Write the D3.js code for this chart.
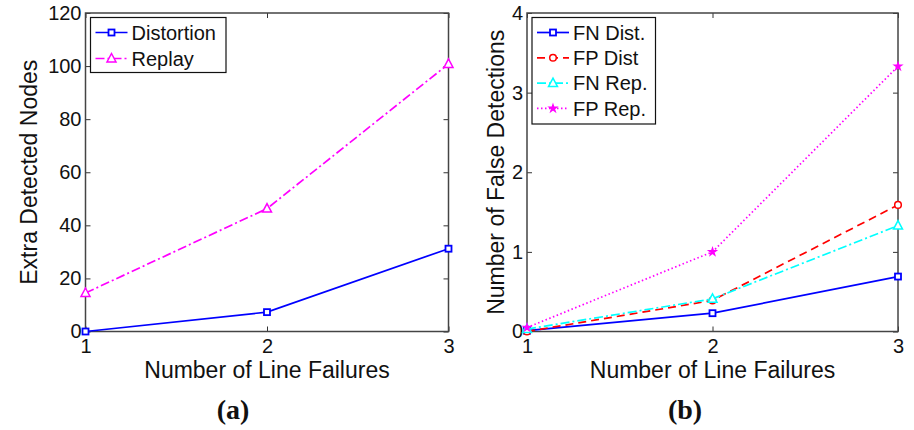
<!DOCTYPE html>
<html><head><meta charset="utf-8">
<script src="https://cdn.jsdelivr.net/npm/d3@7"></script>
<style>body{margin:0;background:#fff}svg{display:block}</style>
</head><body>
<svg id="c" width="914" height="430"></svg>
<script>
// ---- data ----
const failures = [1, 2, 3];
const distortion = [0, 7.3, 31.2];
const replay = [14.5, 46.3, 100.8];
const fnDist = [0.01, 0.23, 0.69];
const fpDist = [0.0, 0.39, 1.59];
const fnRep = [0.03, 0.41, 1.33];
const fpRep = [0.05, 1.0, 3.33];
const leftYTicks = [0, 20, 40, 60, 80, 100, 120];
const rightYTicks = [0, 1, 2, 3, 4];
const xTicks = [1, 2, 3];

const svg = d3.select("#c");
const FONT = "Liberation Sans, Arial, Helvetica, sans-serif";

function panel(cfg) {
  const g = svg.append("g");
  const x = d3.scaleLinear().domain([1, 3]).range([cfg.x0, cfg.x1]);
  const y = d3.scaleLinear().domain(cfg.ydom).range([cfg.y1, cfg.y0]);
  const TS = -5;
  const ax = g.append("g").attr("transform", `translate(0,${cfg.y1})`)
    .call(d3.axisBottom(x).tickValues(xTicks).tickFormat(d3.format("d")).tickSizeInner(TS).tickSizeOuter(0).tickPadding(7));
  const ay = g.append("g").attr("transform", `translate(${cfg.x0},0)`)
    .call(d3.axisLeft(y).tickValues(cfg.yticks).tickFormat(d3.format("d")).tickSizeInner(TS).tickSizeOuter(0).tickPadding(4));
  const at = g.append("g").attr("transform", `translate(0,${cfg.y0})`)
    .call(d3.axisTop(x).tickValues(xTicks).tickFormat("").tickSizeInner(TS).tickSizeOuter(0));
  const ar = g.append("g").attr("transform", `translate(${cfg.x1},0)`)
    .call(d3.axisRight(y).tickValues(cfg.yticks).tickFormat("").tickSizeInner(TS).tickSizeOuter(0));
  [ax, ay, at, ar].forEach(a => {
    a.select(".domain").remove();
    a.selectAll("line").attr("stroke", "#333").attr("stroke-width", 1);
    a.selectAll("text").attr("font-family", FONT).attr("font-size", 20).attr("fill", "#111");
  });
  ax.selectAll("text").attr("dy", "0.71em");
  g.append("rect").attr("x", cfg.x0).attr("y", cfg.y0)
    .attr("width", cfg.x1 - cfg.x0).attr("height", cfg.y1 - cfg.y0)
    .attr("fill", "none").attr("stroke", "#444").attr("stroke-width", 1.5);

  g.append("text").attr("x", (cfg.x0 + cfg.x1) / 2).attr("y", 378)
    .attr("text-anchor", "middle").attr("font-family", FONT).attr("font-size", 23).attr("fill", "#111")
    .text("Number of Line Failures");
  g.append("text").attr("transform", `translate(${cfg.ylabX},${(cfg.y0 + cfg.y1) / 2}) rotate(-90)`)
    .attr("text-anchor", "middle").attr("font-family", FONT).attr("font-size", 23).attr("fill", "#111")
    .text(cfg.ylabel);
  g.append("text").attr("x", cfg.capX).attr("y", 419)
    .attr("text-anchor", "middle").attr("font-family", "Liberation Serif, Times New Roman, serif")
    .attr("font-weight", "bold").attr("font-size", 28).attr("fill", "#111").text(cfg.caption);

  cfg.series.forEach(s => {
    const pts = failures.map((f, i) => [x(f), y(s.values[i])]);
    g.append("path").attr("d", d3.line()(pts)).attr("fill", "none")
      .attr("stroke", s.color).attr("stroke-width", 1.7).attr("stroke-dasharray", s.dash || null);
    pts.forEach(p => marker(g, s, p[0], p[1]));
  });

  const lg = cfg.legend;
  g.append("rect").attr("x", lg.x).attr("y", lg.y).attr("width", lg.w).attr("height", lg.h)
    .attr("fill", "#fff").attr("stroke", "#111").attr("stroke-width", 1.2);
  cfg.series.forEach((s, i) => {
    const yy = lg.y + lg.first + i * lg.step;
    g.append("line").attr("x1", lg.x + 5).attr("x2", lg.x + 37).attr("y1", yy).attr("y2", yy)
      .attr("stroke", s.color).attr("stroke-width", 1.7).attr("stroke-dasharray", s.dash || null);
    marker(g, s, lg.x + 21, yy);
    g.append("text").attr("x", lg.x + 41).attr("y", yy).attr("dy", "0.36em")
      .attr("font-family", FONT).attr("font-size", 20).attr("fill", "#111").text(s.name);
  });
}

function marker(g, s, cx, cy) {
  if (s.marker === "square") {
    g.append("rect").attr("x", cx - 3).attr("y", cy - 3).attr("width", 6).attr("height", 6)
      .attr("fill", "#fff").attr("stroke", s.color).attr("stroke-width", 1.8);
  } else if (s.marker === "circle") {
    g.append("circle").attr("cx", cx).attr("cy", cy).attr("r", 3.3)
      .attr("fill", "#fff").attr("stroke", s.color).attr("stroke-width", 1.5);
  } else if (s.marker === "triangle") {
    g.append("path").attr("transform", `translate(${cx},${cy})`)
      .attr("d", "M0,-5L4.5,3.5L-4.5,3.5Z").attr("fill", "#fff").attr("stroke", s.color).attr("stroke-width", 1.5);
  } else if (s.marker === "dot") {
    g.append("path").attr("transform", `translate(${cx},${cy})`)
      .attr("d", d3.symbol(d3.symbolStar, 14)()).attr("fill", s.color).attr("stroke", s.color).attr("stroke-width", 1.5);
  }
}

panel({
  x0: 85.5, x1: 448.5, y0: 13, y1: 331.5, ydom: [0, 120], yticks: leftYTicks,
  ylabel: "Extra Detected Nodes", ylabX: 37, caption: "(a)", capX: 233,
  series: [
    { name: "Distortion", values: distortion, color: "#0000ff", marker: "square" },
    { name: "Replay", values: replay, color: "#ff00ff", marker: "triangle", dash: "9,3,2,3" }
  ],
  legend: { x: 90.5, y: 17.5, w: 135.5, h: 55, first: 15, step: 26 }
});
panel({
  x0: 527, x1: 898, y0: 13, y1: 331.5, ydom: [0, 4], yticks: rightYTicks,
  ylabel: "Number of False Detections", ylabX: 504, caption: "(b)", capX: 685,
  series: [
    { name: "FN Dist.", values: fnDist, color: "#0000ff", marker: "square" },
    { name: "FP Dist", values: fpDist, color: "#ff0000", marker: "circle", dash: "8,5" },
    { name: "FN Rep.", values: fnRep, color: "#00ffff", marker: "triangle", dash: "9,3,2,3" },
    { name: "FP Rep.", values: fpRep, color: "#ff00ff", marker: "dot", dash: "1.5,2.5" }
  ],
  legend: { x: 532, y: 17.5, w: 123.5, h: 106.5, first: 15, step: 25.3 }
});
</script>
</body></html>
